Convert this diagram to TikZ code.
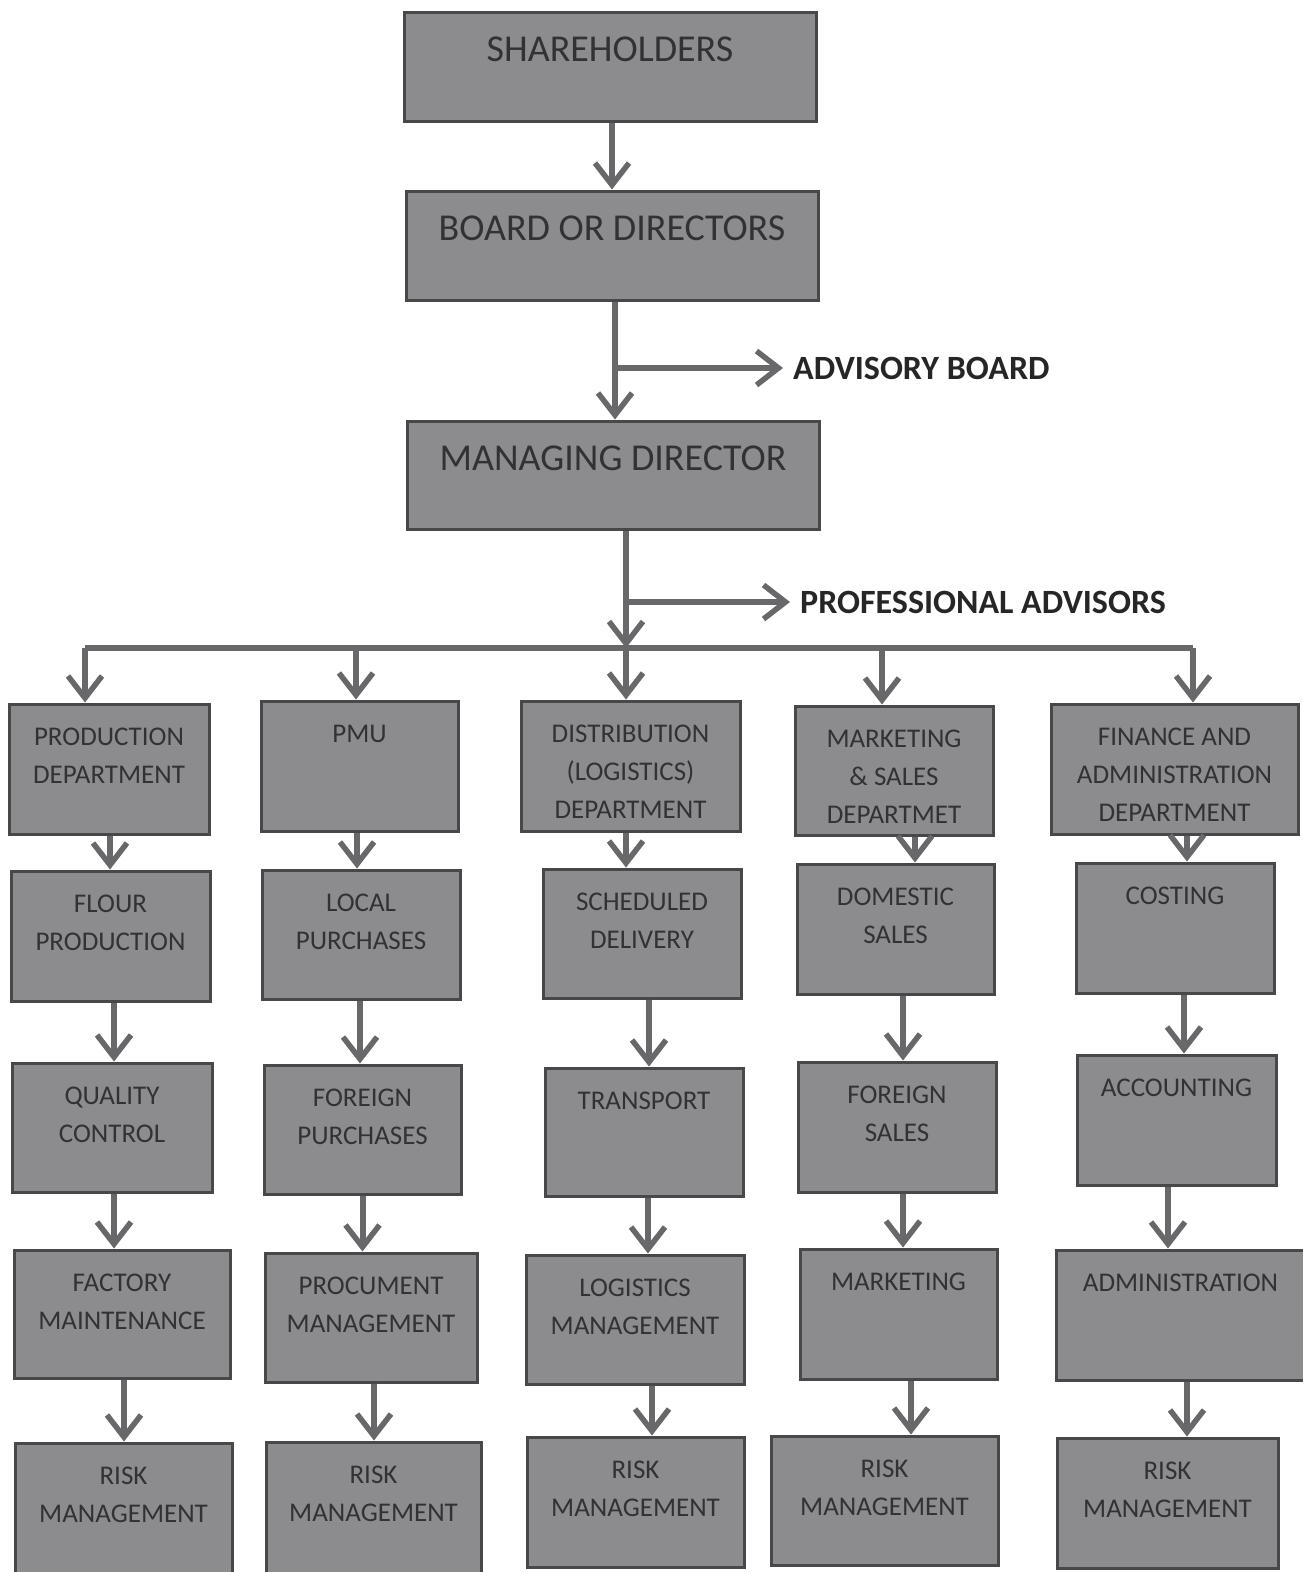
\documentclass[tikz,border=0pt]{standalone}
\usepackage{fontspec}
\setmainfont{Carlito}
\usetikzlibrary{arrows.meta}
\definecolor{boxgray}{RGB}{140,140,142}
\definecolor{edgegray}{RGB}{72,72,74}
\definecolor{arrowgray}{RGB}{104,104,106}
\definecolor{textgray}{RGB}{50,50,52}

\begin{document}
\begin{tikzpicture}[x=1pt,y=1pt,yscale=-1,xscale=1,
	unitbox/.style={draw=edgegray,line width=3pt,fill=boxgray,inner sep=0pt},
	toptext/.style={anchor=north,inner sep=0pt,yshift=-26.5pt,align=center,text=textgray,font=\fontsize{38}{44}\selectfont},
	boxtext/.style={anchor=north,inner sep=0pt,yshift=-25.5pt,align=center,text=textgray,font=\fontsize{27}{38}\selectfont},
	sidetext/.style={anchor=west,inner sep=0pt,text=black!85,font=\fontsize{34}{38}\selectfont\bfseries},
	link/.style={draw=arrowgray,line width=6pt},
	arr/.style={link,-{Straight Barb[length=22pt,width=34pt,line width=5.5pt]}}]
	\useasboundingbox (0,0) rectangle (1302,1572);
	% top of the chart
	\node [unitbox,minimum width=412pt,minimum height=109pt,label={[toptext]north:SHAREHOLDERS}] (sh) at (610,66.5) {};
	\node [unitbox,minimum width=412pt,minimum height=109pt,label={[toptext]north:BOARD OR DIRECTORS}] (bd) at (612,245.5) {};
	\node [unitbox,minimum width=412pt,minimum height=108pt,label={[toptext]north:MANAGING DIRECTOR}] (md) at (613,475) {};
	\node [sidetext] (adv) at (793,368) {ADVISORY BOARD};
	\node [sidetext] (prof) at (800,602) {PROFESSIONAL ADVISORS};
	% production
	\node [unitbox,minimum width=200pt,minimum height=130pt,label={[boxtext]north:PRODUCTION\\DEPARTMENT}] (pd) at (109,769) {};
	\node [unitbox,minimum width=199pt,minimum height=130pt,label={[boxtext]north:FLOUR\\PRODUCTION}] (fl) at (110.5,936) {};
	\node [unitbox,minimum width=200pt,minimum height=129pt,label={[boxtext]north:QUALITY\\CONTROL}] (qc) at (112,1127.5) {};
	\node [unitbox,minimum width=216pt,minimum height=128pt,label={[boxtext]north:FACTORY\\MAINTENANCE}] (fm) at (122,1314) {};
	\node [unitbox,minimum width=217pt,minimum height=135pt,label={[boxtext]north:RISK\\MANAGEMENT}] (rm1) at (123.5,1510.5) {};
	% pmu
	\node [unitbox,minimum width=197pt,minimum height=130pt,label={[boxtext]north:PMU}] (pmu) at (359.5,766) {};
	\node [unitbox,minimum width=198pt,minimum height=129pt,label={[boxtext]north:LOCAL\\PURCHASES}] (lp) at (361,934.5) {};
	\node [unitbox,minimum width=197pt,minimum height=129pt,label={[boxtext]north:FOREIGN\\PURCHASES}] (fpu) at (362.5,1129.5) {};
	\node [unitbox,minimum width=212pt,minimum height=129pt,label={[boxtext]north:PROCUMENT\\MANAGEMENT}] (pr) at (371,1317.5) {};
	\node [unitbox,minimum width=215pt,minimum height=135pt,label={[boxtext]north:RISK\\MANAGEMENT}] (rm2) at (373.5,1509.5) {};
	% distribution
	\node [unitbox,minimum width=219pt,minimum height=130pt,label={[boxtext]north:DISTRIBUTION\\(LOGISTICS)\\DEPARTMENT}] (dl) at (630.5,766) {};
	\node [unitbox,minimum width=198pt,minimum height=129pt,label={[boxtext]north:SCHEDULED\\DELIVERY}] (sd) at (642,933.5) {};
	\node [unitbox,minimum width=198pt,minimum height=128pt,label={[boxtext]north:TRANSPORT}] (tr) at (644,1132) {};
	\node [unitbox,minimum width=218pt,minimum height=129pt,label={[boxtext]north:LOGISTICS\\MANAGEMENT}] (lm) at (635,1319.5) {};
	\node [unitbox,minimum width=217pt,minimum height=130pt,label={[boxtext]north:RISK\\MANAGEMENT}] (rm3) at (635.5,1502) {};
	% marketing
	\node [unitbox,minimum width=198pt,minimum height=129pt,label={[boxtext]north:MARKETING\\\& SALES\\DEPARTMET}] (ms) at (894,770.5) {};
	\node [unitbox,minimum width=197pt,minimum height=130pt,label={[boxtext]north:DOMESTIC\\SALES}] (ds) at (895.5,929) {};
	\node [unitbox,minimum width=198pt,minimum height=130pt,label={[boxtext]north:FOREIGN\\SALES}] (fs) at (897,1127) {};
	\node [unitbox,minimum width=197pt,minimum height=130pt,label={[boxtext]north:MARKETING}] (mk) at (898.5,1314) {};
	\node [unitbox,minimum width=227pt,minimum height=129pt,label={[boxtext]north:RISK\\MANAGEMENT}] (rm4) at (884.5,1500.5) {};
	% finance
	\node [unitbox,minimum width=247pt,minimum height=130pt,label={[boxtext]north:FINANCE AND\\ADMINISTRATION\\DEPARTMENT}] (fa) at (1174.5,769) {};
	\node [unitbox,minimum width=198pt,minimum height=130pt,label={[boxtext]north:COSTING}] (co) at (1175,928) {};
	\node [unitbox,minimum width=199pt,minimum height=130pt,label={[boxtext]north:ACCOUNTING}] (ac) at (1176.5,1120) {};
	\node [unitbox,minimum width=249pt,minimum height=130pt,label={[boxtext]north:ADMINISTRATION}] (ad) at (1180.5,1315) {};
	\node [unitbox,minimum width=221pt,minimum height=130pt,label={[boxtext]north:RISK\\MANAGEMENT}] (rm5) at (1167.5,1503) {};
	% branch points
	\coordinate (advj) at (615,368);
	\coordinate (profj) at (626,602);
	\coordinate (b1) at (85,648);
	\coordinate (b2) at (356,648);
	\coordinate (b3) at (626,648);
	\coordinate (b4) at (882,648);
	\coordinate (b5) at (1193,648);
	% top arrows
	\draw [arr] ([xshift=2pt]sh.south) -- ([xshift=2pt]sh.south |- bd.north);
	\draw [arr] ([xshift=3pt]bd.south) -- ([xshift=3pt]bd.south |- md.north);
	\draw [arr] (advj) -- ([xshift=-10pt]adv.west);
	\draw [arr] ([xshift=13pt]md.south) -- (b3);
	\draw [arr] (profj) -- ([xshift=-10pt]prof.west);
	\draw [link] (b1) -- (b5);
	\draw [arr] (b1) -- (b1 |- pd.north);
	\draw [arr] (b2) -- (b2 |- pmu.north);
	\draw [arr] (b3) -- (b3 |- dl.north);
	\draw [arr] (b4) -- (b4 |- ms.north);
	\draw [arr] (b5) -- (b5 |- fa.north);
	% column arrows
	\draw [arr] ([xshift=1pt]pd.south) -- ([xshift=1pt]pd.south |- fl.north);
	\draw [arr] ([xshift=3.5pt]fl.south) -- ([xshift=3.5pt]fl.south |- qc.north);
	\draw [arr] ([xshift=2pt]qc.south) -- ([xshift=2pt]qc.south |- fm.north);
	\draw [arr] ([xshift=2pt]fm.south) -- ([xshift=2pt]fm.south |- rm1.north);
	\draw [arr] ([xshift=-2.5pt]pmu.south) -- ([xshift=-2.5pt]pmu.south |- lp.north);
	\draw [arr] ([xshift=-1pt]lp.south) -- ([xshift=-1pt]lp.south |- fpu.north);
	\draw [arr] (fpu.south) -- (fpu.south |- pr.north);
	\draw [arr] ([xshift=3pt]pr.south) -- ([xshift=3pt]pr.south |- rm2.north);
	\draw [arr] ([xshift=-4.5pt]dl.south) -- ([xshift=-4.5pt]dl.south |- sd.north);
	\draw [arr] ([xshift=7pt]sd.south) -- ([xshift=7pt]sd.south |- tr.north);
	\draw [arr] ([xshift=4pt]tr.south) -- ([xshift=4pt]tr.south |- lm.north);
	\draw [arr] ([xshift=17pt]lm.south) -- ([xshift=17pt]lm.south |- rm3.north);
	\draw [arr] ([xshift=21pt]ms.south) -- ([xshift=21pt]ms.south |- ds.north);
	\draw [arr] ([xshift=7.5pt]ds.south) -- ([xshift=7.5pt]ds.south |- fs.north);
	\draw [arr] ([xshift=6pt]fs.south) -- ([xshift=6pt]fs.south |- mk.north);
	\draw [arr] ([xshift=12.5pt]mk.south) -- ([xshift=12.5pt]mk.south |- rm4.north);
	\draw [arr] ([xshift=12.5pt]fa.south) -- ([xshift=12.5pt]fa.south |- co.north);
	\draw [arr] ([xshift=9pt]co.south) -- ([xshift=9pt]co.south |- ac.north);
	\draw [arr] ([xshift=-8.5pt]ac.south) -- ([xshift=-8.5pt]ac.south |- ad.north);
	\draw [arr] ([xshift=6.5pt]ad.south) -- ([xshift=6.5pt]ad.south |- rm5.north);
\end{tikzpicture}
\end{document}
